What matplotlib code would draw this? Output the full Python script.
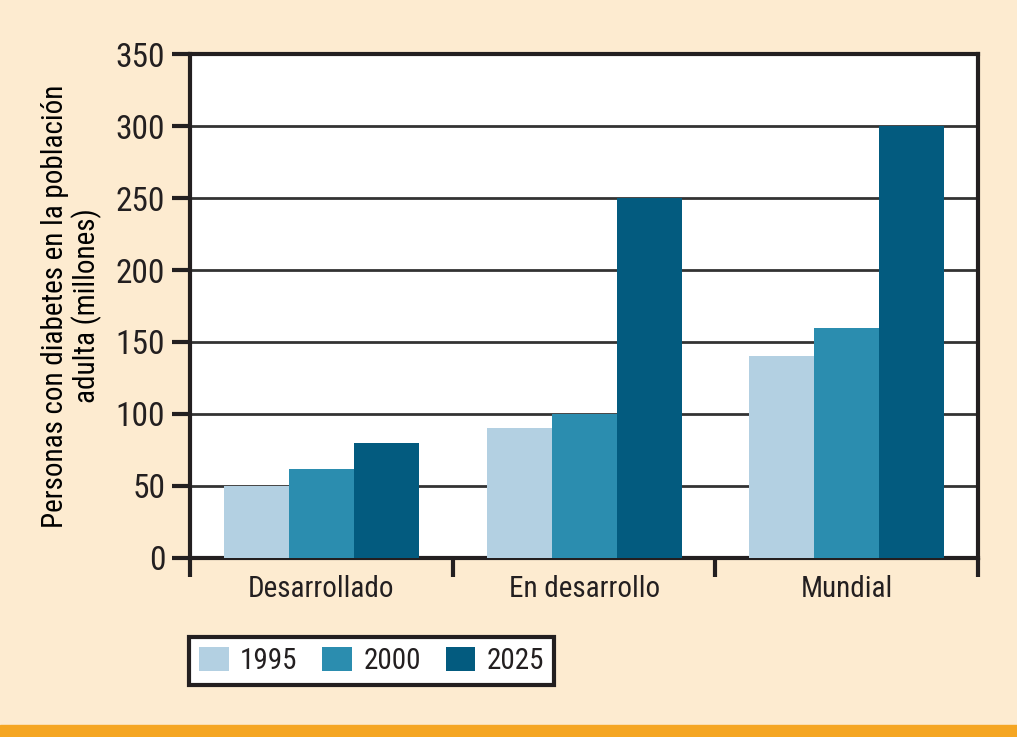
import matplotlib
matplotlib.use("Agg")
import matplotlib.pyplot as plt
from matplotlib import font_manager
from matplotlib.patches import Rectangle
import numpy as np

# datos
regiones = ["Desarrollado", "En desarrollo", "Mundial"]
anios = ["1995", "2000", "2025"]
v1995 = [50, 90, 140]
v2000 = [62, 100, 160]
v2025 = [80, 250, 300]
yticks = [0, 50, 100, 150, 200, 250, 300, 350]

colores = ["#B3D0E2", "#2B8DAF", "#035B7F"]
fondo = "#FDEBD0"
negro = "#231F20"

# buscar una fuente estrecha (la original es Myriad Condensed)
candidatas = []
for f in font_manager.fontManager.ttflist:
    if f.style != "normal" or f.weight not in (400, "normal", "regular"):
        continue
    nombre = f.name
    if "Condensed" in nombre or "Narrow" in nombre or f.stretch in ("condensed", "semi-condensed"):
        rango = 5
        if "Roboto" in nombre:
            rango = 0
        elif "Open Sans" in nombre or "Noto" in nombre:
            rango = 1
        elif "Liberation" in nombre:
            rango = 2
        elif "DejaVu" in nombre:
            rango = 4
        candidatas.append((rango, nombre, f.stretch))
candidatas.sort()
if candidatas:
    fuente, estiramiento = candidatas[0][1], candidatas[0][2]
    plt.rcParams['font.family'] = [fuente, 'DejaVu Sans']
    plt.rcParams['font.stretch'] = estiramiento
else:
    plt.rcParams['font.family'] = ['DejaVu Sans']
    plt.rcParams['font.stretch'] = 'condensed'
plt.rcParams['text.color'] = negro
plt.rcParams['xtick.labelcolor'] = negro
plt.rcParams['ytick.labelcolor'] = negro

fig = plt.figure(figsize=(10.17, 7.37), dpi=100, facecolor=fondo)
ax = fig.add_axes([0.187, 0.2429, 0.7747, 0.6838])

# franja naranja abajo
fig.patches.append(Rectangle((0, 0), 1, 12 / 737, transform=fig.transFigure,
                             color="#F5A623", zorder=0))

x = np.arange(len(regiones))
ancho = 0.2475
for i, (vals, anio) in enumerate(zip([v1995, v2000, v2025], anios)):
    ax.bar(x + (i - 1) * ancho, vals, ancho, color=colores[i], label=anio, zorder=3)

ax.set_xlim(-0.5, 2.5)
ax.set_ylim(0, 350)
ax.set_yticks(yticks)
ax.set_yticklabels([str(t) for t in yticks], fontsize=24)
ax.yaxis.grid(True, color="#333333", linewidth=2, zorder=0)
ax.set_axisbelow(True)

ax.set_xticks(x)
ax.set_xticklabels(regiones, fontsize=21)
ax.set_xticks([-0.5, 0.5, 1.5, 2.5], minor=True)
ax.tick_params(axis="x", which="major", length=0, pad=12)
ax.tick_params(axis="x", which="minor", length=14, width=3, color=negro)
ax.tick_params(axis="y", length=13, width=3, color=negro, pad=5)

for s in ["left", "right", "bottom", "top"]:
    ax.spines[s].set_linewidth(3)
    ax.spines[s].set_color(negro)

ax.set_ylabel("Personas con diabetes en la población\nadulta (millones)",
              fontsize=21, linespacing=1.1, labelpad=10, multialignment="center")

leg = fig.legend(loc="upper left", bbox_to_anchor=(0.186, 0.1357), ncol=3,
                 fontsize=21, frameon=True, fancybox=False, handlelength=1.0,
                 handleheight=0.85, handletextpad=0.4, columnspacing=0.85,
                 borderpad=0.35, borderaxespad=0)
leg.get_frame().set_edgecolor(negro)
leg.get_frame().set_linewidth(3)
leg.get_frame().set_facecolor("white")
leg.get_frame().set_alpha(1)

fig.savefig("out.png", dpi=100, facecolor=fondo)
